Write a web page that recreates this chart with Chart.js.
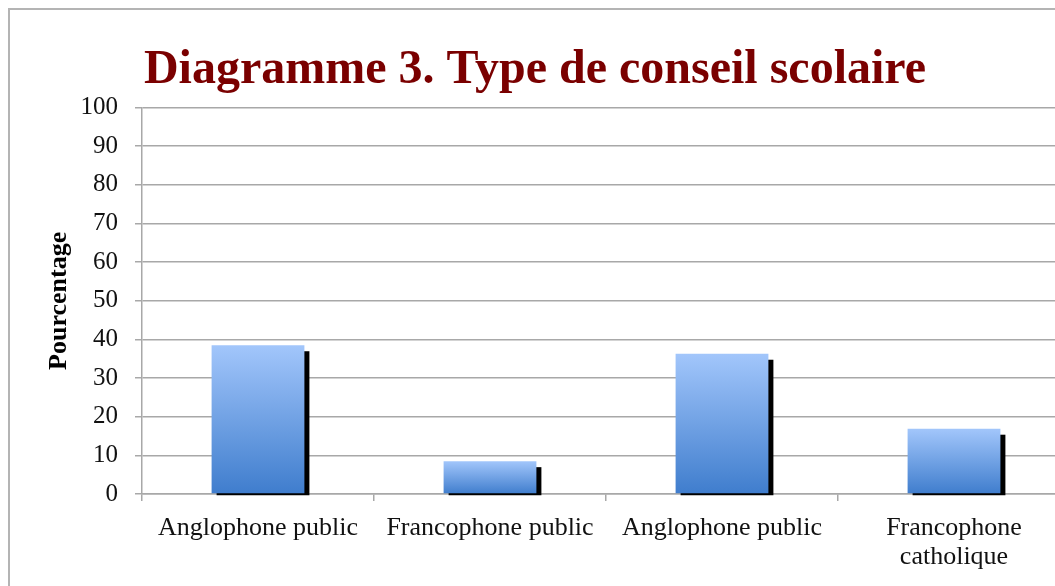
<!DOCTYPE html>
<html>
<head>
<meta charset="utf-8">
<script src="https://cdn.jsdelivr.net/npm/chart.js@4"></script>
<style>
  html, body { margin: 0; padding: 0; background: #fff; width: 1055px; height: 586px; overflow: hidden; }
  #frame { position: absolute; left: 8px; top: 8px; width: 1200px; height: 700px;
           border-left: 2px solid #b4b4b4; border-top: 2px solid #b4b4b4; }
  #chart { position: absolute; left: 0; top: 0; }
</style>
</head>
<body>
<div id="frame"></div>
<canvas id="chart" width="1082" height="586"></canvas>
<script>
// data
const categories = ['Anglophone public', 'Francophone public', 'Anglophone public', ['Francophone', 'catholique']];
const percentages = [38.5, 8.5, 36.3, 16.9];
const yTicks = [0, 10, 20, 30, 40, 50, 60, 70, 80, 90, 100];

const serif = '"Liberation Serif", "Times New Roman", serif';
const gridGrey = '#a8a8a8';

// black drop shadow to the right / bottom of each bar
const barShadow = {
  id: 'barShadow',
  beforeDatasetsDraw(chart) {
    const ctx = chart.ctx;
    ctx.save();
    ctx.fillStyle = '#000';
    chart.getDatasetMeta(0).data.forEach(bar => {
      const left = bar.x - bar.width / 2 + 5;
      ctx.fillRect(left, bar.y + 6, bar.width, bar.base - bar.y - 4);
    });
    ctx.restore();
  }
};

function barGradient(context) {
  const chart = context.chart;
  const y = chart.scales.y;
  if (!y || context.dataIndex === undefined) return '#6a9ce6';
  const top = y.getPixelForValue(percentages[context.dataIndex]);
  const bottom = y.getPixelForValue(0);
  if (!isFinite(top) || !isFinite(bottom)) return '#6a9ce6';
  const g = chart.ctx.createLinearGradient(0, top, 0, bottom);
  g.addColorStop(0, '#a2c6fb');
  g.addColorStop(1, '#3f7dcd');
  return g;
}

new Chart(document.getElementById('chart'), {
  type: 'bar',
  data: {
    labels: categories,
    datasets: [{
      data: percentages,
      backgroundColor: barGradient,
      borderWidth: 0,
      barPercentage: 0.4,
      categoryPercentage: 1
    }]
  },
  plugins: [barShadow],
  options: {
    responsive: false,
    animation: false,
    devicePixelRatio: 1,
    layout: { padding: { left: 0, right: 12, top: 0, bottom: 0 } },
    plugins: {
      legend: { display: false },
      tooltip: { enabled: false },
      title: {
        display: true,
        text: 'Diagramme 3. Type de conseil scolaire',
        color: '#7a0000',
        font: { family: serif, size: 48, weight: 'bold' },
        padding: { top: 42, bottom: 8 }
      }
    },
    scales: {
      x: {
        afterFit(scale) { scale.height = 92; },
        grid: { display: true, drawOnChartArea: false, drawTicks: true, tickLength: 7, color: gridGrey, lineWidth: 1.5 },
        border: { display: true, color: gridGrey, width: 1.5 },
        ticks: { color: '#111', padding: 13, font: { family: serif, size: 26, lineHeight: 1.1 } }
      },
      y: {
        min: 0,
        max: 100,
        afterFit(scale) { scale.width = 142; },
        afterBuildTicks(scale) { scale.ticks = yTicks.map(v => ({ value: v })); },
        grid: { color: gridGrey, lineWidth: 1.5, drawTicks: true, tickLength: 7 },
        border: { display: true, color: gridGrey, width: 1.5 },
        ticks: { color: '#111', padding: 17, font: { family: serif, size: 25 } },
        title: {
          display: true,
          text: 'Pourcentage',
          color: '#000',
          font: { family: serif, size: 26, weight: 'bold' },
          padding: { top: 44, bottom: 0 }
        }
      }
    }
  }
});
</script>
</body>
</html>
